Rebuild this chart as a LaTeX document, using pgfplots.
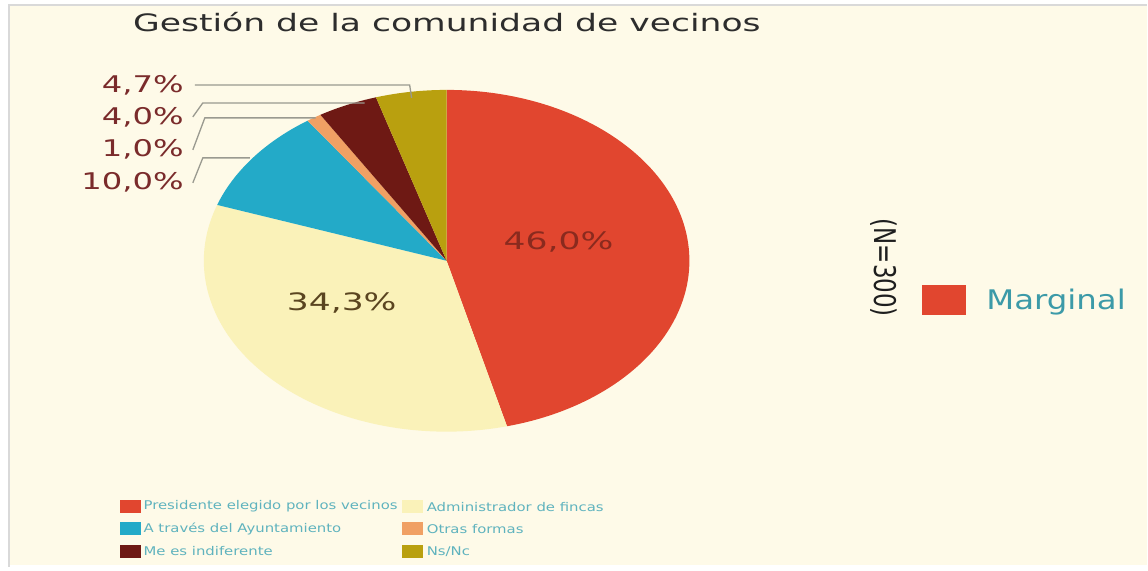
\documentclass[border=0pt]{standalone}
\usepackage{pgfplots}
\pgfplotsset{compat=1.18}
\usepackage{pgfplotstable}
\usepackage{fontspec}
\setmainfont{DejaVu Sans}
\definecolor{cRed}{HTML}{E1462F}
\definecolor{cCream}{HTML}{FAF2B9}
\definecolor{cCyan}{HTML}{23AAC8}
\definecolor{cOrange}{HTML}{F0A064}
\definecolor{cBrown}{HTML}{6E1914}
\definecolor{cOlive}{HTML}{B9A00F}
\definecolor{cBg}{HTML}{FEFAE8}
\definecolor{cLab}{HTML}{7A2B2B}
\definecolor{cTeal}{HTML}{5FB3BE}
\definecolor{cTeal2}{HTML}{3C9AA8}
\definecolor{cLine}{HTML}{9A9A90}
\pgfplotstableread{
id value
0 46.0
1 34.3
2 10.0
3 1.0
4 4.0
5 4.7
}\piedata
\newcommand\sx[2]{\scalebox{#1}[1]{#2}}
\newcommand\legtext[1]{\sx{1.24}{\fontsize{12}{14}\selectfont #1}}
\begin{document}
\begin{tikzpicture}
\begin{axis}[width=1148pt,height=571pt,scale only axis,
  xmin=0,xmax=1148,ymin=0,ymax=571,hide axis,clip=false]
\pgfplotsextra{
  % background
  \fill[white] (axis cs:0,0) rectangle (axis cs:1148,571);
  \fill[cBg] (axis cs:9,6) rectangle (axis cs:1148,566);
  \draw[black!15,line width=2pt] (axis cs:9,4) -- (axis cs:9,566) -- (axis cs:1148,566);
  % pie
  \xdef\acc{90}
  \foreach \i/\c in {0/cRed,1/cCream,2/cCyan,3/cOrange,4/cBrown,5/cOlive}{
    \pgfplotstablegetelem{\i}{value}\of\piedata
    \pgfmathsetmacro\b{\acc-3.6*\pgfplotsretval}
    \fill[\c] (axis cs:447,310) -- (axis cs:{447+243*cos(\acc)},{310+171*sin(\acc)})
      arc[start angle=\acc,end angle=\b,x radius=243pt,y radius=171pt] -- cycle;
    \xdef\acc{\b}
  }
  % leader lines
  \draw[cLine,line width=1.3pt] (axis cs:195,486) -- (axis cs:410,486) -- (axis cs:412,473);
  \draw[cLine,line width=1.3pt] (axis cs:193,454) -- (axis cs:203,468) -- (axis cs:365,468);
  \draw[cLine,line width=1.3pt] (axis cs:193,421) -- (axis cs:205,453) -- (axis cs:316,453);
  \draw[cLine,line width=1.3pt] (axis cs:193,388) -- (axis cs:203,413) -- (axis cs:250,413);
  % labels
  \node[anchor=base east,inner sep=0pt,text=cLab] at (axis cs:184,478) {\sx{1.4}{\fontsize{23}{26}\selectfont 4,7\%}};
  \node[anchor=base east,inner sep=0pt,text=cLab] at (axis cs:184,446) {\sx{1.4}{\fontsize{23}{26}\selectfont 4,0\%}};
  \node[anchor=base east,inner sep=0pt,text=cLab] at (axis cs:184,414) {\sx{1.4}{\fontsize{23}{26}\selectfont 1,0\%}};
  \node[anchor=base east,inner sep=0pt,text=cLab] at (axis cs:184,381) {\sx{1.4}{\fontsize{23}{26}\selectfont 10,0\%}};
  \node[inner sep=0pt,text={rgb,255:red,138;green,42;blue,30}] at (axis cs:559,329) {\sx{1.44}{\fontsize{24}{28}\selectfont 46,0\%}};
  \node[inner sep=0pt,text={rgb,255:red,90;green,69;blue,32}] at (axis cs:342,268) {\sx{1.44}{\fontsize{24}{28}\selectfont 34,3\%}};
  % title
  \node[anchor=base west,inner sep=0pt,text={rgb,255:red,45;green,45;blue,45}] at (axis cs:133,539) {\sx{1.44}{\fontsize{24}{28}\selectfont Gestión de la comunidad de vecinos}};
  % N
  \node[inner sep=0pt,rotate=-90,text={rgb,255:red,30;green,30;blue,30}] at (axis cs:885,303) {\scalebox{1}[1.3]{\fontsize{23}{26}\selectfont (N=300)}};
  % marginal
  \fill[cRed] (axis cs:923,256) rectangle (axis cs:967,286);
  \node[anchor=base west,inner sep=0pt,text=cTeal2] at (axis cs:987,261) {\sx{1.2}{\fontsize{27}{30}\selectfont Marginal}};
  % legend
  \fill[cRed]    (axis cs:120,57.5) rectangle (axis cs:141,70.5);
  \fill[cCream]  (axis cs:402,57.5) rectangle (axis cs:423,70.5);
  \fill[cCyan]   (axis cs:120,35.5) rectangle (axis cs:141,48.5);
  \fill[cOrange] (axis cs:402,35.5) rectangle (axis cs:423,48.5);
  \fill[cBrown]  (axis cs:120,12.5) rectangle (axis cs:141,25.5);
  \fill[cOlive]  (axis cs:402,12.5) rectangle (axis cs:423,25.5);
  \node[anchor=west,inner sep=0pt,text=cTeal] at (axis cs:143.5,64) {\legtext{Presidente elegido por los vecinos}};
  \node[anchor=west,inner sep=0pt,text=cTeal] at (axis cs:427,64) {\legtext{Administrador de fincas}};
  \node[anchor=west,inner sep=0pt,text=cTeal] at (axis cs:143.5,42) {\legtext{A través del Ayuntamiento}};
  \node[anchor=west,inner sep=0pt,text=cTeal] at (axis cs:427,42) {\legtext{Otras formas}};
  \node[anchor=west,inner sep=0pt,text=cTeal] at (axis cs:143.5,19) {\legtext{Me es indiferente}};
  \node[anchor=west,inner sep=0pt,text=cTeal] at (axis cs:427,19) {\legtext{Ns/Nc}};
}
\end{axis}
\end{tikzpicture}
\end{document}
